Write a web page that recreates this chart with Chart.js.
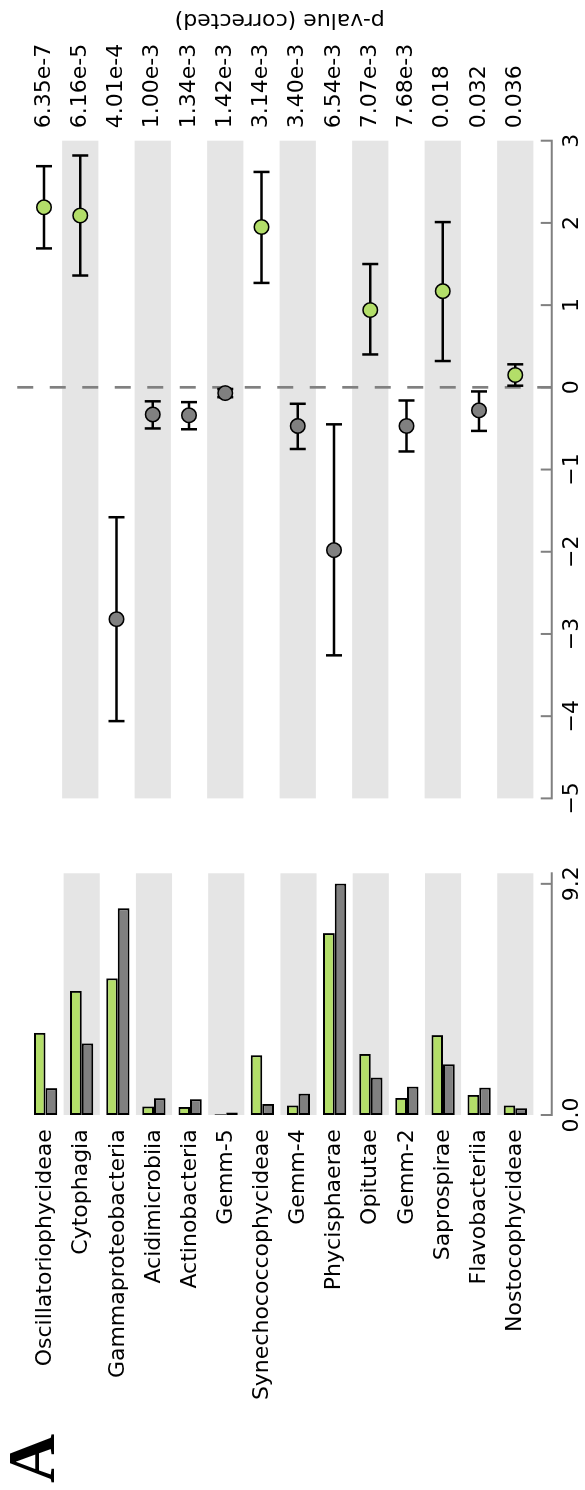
<!DOCTYPE html>
<html>
<head>
<meta charset="utf-8">
<script src="https://cdn.jsdelivr.net/npm/chart.js@4.4.1/dist/chart.umd.min.js"></script>
<style>
  html, body { margin: 0; padding: 0; background: #ffffff; width: 585px; height: 1490px; overflow: hidden; }
  /* the figure is laid out landscape and turned a quarter turn counter-clockwise */
  #fig { position: absolute; left: 0; top: 0; width: 1490px; height: 585px;
         transform-origin: 0 0; transform: translateY(1490px) rotate(-90deg); background: #fff; }
  #barCanvas { position: absolute; left: 0; top: 0; }
  #diffCanvas { position: absolute; left: 650px; top: 0; }
</style>
</head>
<body>
<div id="fig">
  <canvas id="barCanvas" width="650" height="585"></canvas>
  <canvas id="diffCanvas" width="840" height="585"></canvas>
</div>
<script>
// Taxa compared between the two groups
const categories = [
  'Oscillatoriophycideae', 'Cytophagia', 'Gammaproteobacteria', 'Acidimicrobiia',
  'Actinobacteria', 'Gemm-5', 'Synechococcophycideae', 'Gemm-4', 'Phycisphaerae',
  'Opitutae', 'Gemm-2', 'Saprospirae', 'Flavobacteriia', 'Nostocophycideae'
];
// Mean proportions (%) per group
const meanGroupA = [3.27, 4.94, 5.44, 0.34, 0.32, 0.03, 2.38, 0.38, 7.24, 2.43, 0.68, 3.18, 0.80, 0.38];
const meanGroupB = [1.07, 2.85, 8.23, 0.67, 0.63, 0.10, 0.44, 0.85, 9.21, 1.49, 1.13, 2.02, 1.09, 0.27];
// Difference in mean proportions (%) with 95% confidence interval
const meanDiff = [2.19, 2.09, -2.82, -0.33, -0.34, -0.07, 1.95, -0.47, -1.98, 0.94, -0.47, 1.17, -0.28, 0.15];
const ciLower  = [1.69, 1.36, -4.06, -0.50, -0.51, -0.12, 1.27, -0.75, -3.26, 0.40, -0.78, 0.32, -0.53, 0.02];
const ciUpper  = [2.69, 2.82, -1.58, -0.17, -0.18, -0.02, 2.62, -0.20, -0.45, 1.50, -0.16, 2.01, -0.05, 0.28];
// Corrected p-values
const pValues = ['6.35e-7', '6.16e-5', '4.01e-4', '1.00e-3', '1.34e-3', '1.42e-3', '3.14e-3',
                 '3.40e-3', '6.54e-3', '7.07e-3', '7.68e-3', '0.018', '0.032', '0.036'];
// Tick values
const barTicks = [0, 9.2];
const diffTicks = [-5, -4, -3, -2, -1, 0, 1, 2, 3];

const GREEN = '#b3de69';
const GREY = '#808080';
const STRIPE = '#e5e5e5';
const SPINE_GAP = 18.3;   // distance from plot edge to detached axis line

Chart.defaults.font.family = '"DejaVu Sans", sans-serif';
Chart.defaults.font.size = 22;
Chart.defaults.color = '#000000';

// alternate row shading
function drawStripes(chart) {
  const { ctx, chartArea: a, scales: { y } } = chart;
  const h = y.getPixelForValue(1) - y.getPixelForValue(0);
  ctx.save();
  ctx.fillStyle = STRIPE;
  categories.forEach((c, i) => {
    if (i % 2 === 1) {
      const yc = y.getPixelForValue(i);
      ctx.fillRect(a.left, yc - h / 2, a.right - a.left, h);
    }
  });
  ctx.restore();
}

// detached bottom axis line with inward ticks
const offsetSpine = {
  id: 'offsetSpine',
  afterDraw(chart) {
    const { ctx, chartArea: a, scales: { x } } = chart;
    const yLine = a.bottom + SPINE_GAP;
    ctx.save();
    ctx.strokeStyle = '#808080';
    ctx.lineWidth = 2;
    ctx.lineCap = 'square';
    ctx.beginPath();
    ctx.moveTo(x.getPixelForValue(x.min), yLine);
    ctx.lineTo(x.getPixelForValue(x.max), yLine);
    x.ticks.forEach(t => {
      const px = x.getPixelForValue(t.value);
      ctx.moveTo(px, yLine);
      ctx.lineTo(px, yLine - 10);
    });
    ctx.stroke();
    ctx.restore();
  }
};

const barBackground = {
  id: 'barBackground',
  beforeDatasetsDraw(chart) { drawStripes(chart); },
  afterDraw(chart) {
    const { ctx } = chart;
    ctx.save();
    ctx.font = 'bold 68px "Liberation Serif", serif';
    ctx.fillStyle = '#000';
    ctx.textBaseline = 'alphabetic';
    ctx.textAlign = 'left';
    ctx.fillText('A', 7, 53.5);
    ctx.restore();
  }
};

const diffBackground = {
  id: 'diffBackground',
  beforeDatasetsDraw(chart) {
    drawStripes(chart);
    const { ctx, chartArea: a, scales: { x, y } } = chart;
    // zero reference line
    const x0 = x.getPixelForValue(0);
    ctx.save();
    ctx.strokeStyle = GREY;
    ctx.lineWidth = 2.7;
    ctx.setLineDash([16, 16.5]);
    ctx.beginPath();
    ctx.moveTo(x0, a.top - 8.6);
    ctx.lineTo(x0, a.bottom + SPINE_GAP);
    ctx.stroke();
    ctx.restore();
    // confidence interval whiskers
    ctx.save();
    ctx.strokeStyle = '#000';
    ctx.lineWidth = 2.5;
    ctx.beginPath();
    categories.forEach((c, i) => {
      const yc = y.getPixelForValue(i);
      const xl = x.getPixelForValue(ciLower[i]);
      const xu = x.getPixelForValue(ciUpper[i]);
      ctx.moveTo(xl, yc); ctx.lineTo(xu, yc);
      ctx.moveTo(xl, yc - 8); ctx.lineTo(xl, yc + 8);
      ctx.moveTo(xu, yc - 8); ctx.lineTo(xu, yc + 8);
    });
    ctx.stroke();
    ctx.restore();
  },
  afterDraw(chart) {
    const { ctx, chartArea: a } = chart;
    ctx.save();
    ctx.translate(820, (a.top + a.bottom) / 2);
    ctx.rotate(-Math.PI / 2);
    ctx.font = '22px "DejaVu Sans", sans-serif';
    ctx.fillStyle = '#000';
    ctx.textAlign = 'center';
    ctx.textBaseline = 'middle';
    ctx.fillText('p-value (corrected)', 0, 0);
    ctx.restore();
  }
};

const commonY = {
  type: 'category',
  offset: true,
  grid: { display: false, drawTicks: false },
  border: { display: false }
};

new Chart(document.getElementById('barCanvas'), {
  type: 'bar',
  data: {
    labels: categories,
    datasets: [
      { data: meanGroupA, backgroundColor: GREEN, borderColor: '#000', borderWidth: 2,
        borderSkipped: false, categoryPercentage: 0.643, barPercentage: 1 },
      { data: meanGroupB, backgroundColor: GREY, borderColor: '#000', borderWidth: 2,
        borderSkipped: false, categoryPercentage: 0.643, barPercentage: 1 }
    ]
  },
  options: {
    indexAxis: 'y',
    responsive: false,
    animation: false,
    events: [],
    layout: { padding: { top: 25.875, right: 21.7, left: 0, bottom: 0 } },
    plugins: { legend: { display: false }, tooltip: { enabled: false } },
    scales: {
      x: {
        type: 'linear', min: 0, max: 9.62,
        grid: { display: false, drawTicks: false },
        border: { display: false },
        afterBuildTicks: s => { s.ticks = barTicks.map(v => ({ value: v })); },
        ticks: { padding: 25.4, autoSkip: false, maxRotation: 0, callback: v => Number(v).toFixed(1) },
        afterFit: s => { s.height = 51.625; }
      },
      y: Object.assign({}, commonY, {
        position: 'left',
        ticks: { padding: 14.3, autoSkip: false },
        afterFit: s => { s.width = 375; }
      })
    }
  },
  plugins: [barBackground, offsetSpine]
});

new Chart(document.getElementById('diffCanvas'), {
  type: 'line',
  data: {
    labels: categories,
    datasets: [{
      data: meanDiff,
      showLine: false,
      pointRadius: 7.25,
      pointBorderWidth: 1.5,
      pointBorderColor: '#000',
      pointBackgroundColor: meanDiff.map(v => (v > 0 ? GREEN : GREY)),
      clip: false
    }]
  },
  options: {
    indexAxis: 'y',
    responsive: false,
    animation: false,
    events: [],
    layout: { padding: { top: 25.875, left: 31, right: 0, bottom: 0 } },
    plugins: { legend: { display: false }, tooltip: { enabled: false } },
    scales: {
      x: {
        type: 'linear', min: -5, max: 3,
        grid: { display: false, drawTicks: false },
        border: { display: false },
        afterBuildTicks: s => { s.ticks = diffTicks.map(v => ({ value: v })); },
        ticks: { padding: 25.4, autoSkip: false, maxRotation: 0,
                 callback: v => String(v).replace('-', '\u2212') },
        afterFit: s => { s.height = 51.625; }
      },
      y: Object.assign({}, commonY, {
        position: 'right',
        ticks: { padding: 12.4, autoSkip: false, callback: (v, i) => pValues[i] },
        afterFit: s => { s.width = 140.7; }
      })
    }
  },
  plugins: [diffBackground, offsetSpine]
});
</script>
</body>
</html>
